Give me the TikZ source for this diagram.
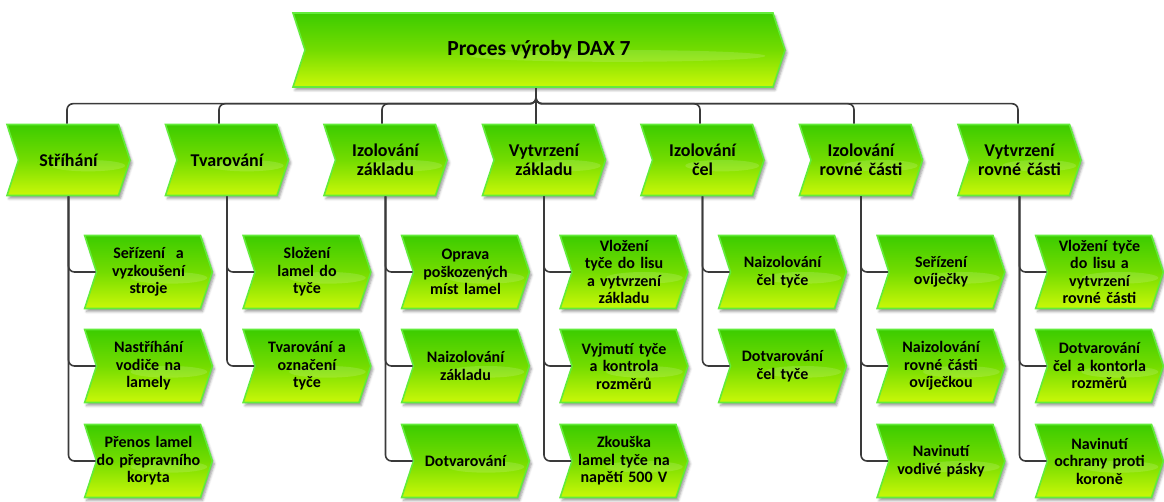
\documentclass[tikz,border=0pt]{standalone}
\usepackage{fontspec}
\setmainfont{Carlito}
\usetikzlibrary{shapes.symbols,shadows.blur,calc}
\definecolor{gtop}{RGB}{60,204,0}
\definecolor{gmid}{RGB}{116,220,0}
\definecolor{gbot}{RGB}{202,248,8}
\definecolor{gedge}{RGB}{98,236,58}
\definecolor{conncol}{RGB}{58,58,58}
\tikzset{
 chev/.style={signal, signal from=west, signal to=east, signal pointer angle=144,
   draw=gedge, line width=1.6pt, top color=gtop, bottom color=gbot, middle color=gmid,
   inner sep=0pt, align=center,
   blur shadow={shadow xshift=2pt, shadow yshift=-3pt, shadow blur radius=2.5pt, shadow opacity=40},
   path picture={\fill[white,opacity=0.14] let \p1=(path picture bounding box.north east), \p2=(path picture bounding box.south west) in
      ({\x2+0.66*(\x1-\x2)},{\y2+0.42*(\y1-\y2)}) ellipse [x radius={0.3*(\x1-\x2)}, y radius={0.08*(\y1-\y2)}];}},
 titlechev/.style={chev, minimum width=492, minimum height=74, font=\fontsize{21.5}{24}\selectfont\bfseries},
 colchev/.style={chev, minimum width=119, minimum height=71, text width=100, font=\fontsize{18}{19}\selectfont\bfseries},
 subchev/.style={chev, minimum width=118, minimum height=73, text width=104, font=\fontsize{16}{17.5}\selectfont\bfseries},
 link/.style={draw=conncol, line width=1.6pt, rounded corners=6pt},
}
\begin{document}
\begin{tikzpicture}[x=1pt,y=-1pt]
\useasboundingbox (0,0) rectangle (1164,502);
\node[titlechev] (top) at (539,50) {Proces výroby DAX 7};
\node[colchev] (c1) at (68.5,160) {Stříhání};
\node[colchev] (c2) at (227,160) {Tvarování};
\node[colchev] (c3) at (385.5,160) {Izolování\\základu};
\node[colchev] (c4) at (544,160) {Vytvrzení\\základu};
\node[colchev] (c5) at (702.5,160) {Izolování\\čel};
\node[colchev] (c6) at (861,160) {Izolování\\rovné části};
\node[colchev] (c7) at (1019.5,160) {Vytvrzení\\rovné části};
% column 1
\node[subchev] (s11) at (148.5,272) {Seřízení\ \ a\\vyzkoušení\\stroje};
\node[subchev] (s12) at (148.5,366) {Nastříhání\\vodiče na\\lamely};
\node[subchev] (s13) at (148.5,461) {Přenos lamel\\do přepravního\\koryta};
% column 2
\node[subchev] (s21) at (307,272) {Složení\\lamel do\\tyče};
\node[subchev] (s22) at (307,366) {Tvarování a\\označení\\tyče};
% column 3
\node[subchev] (s31) at (465.5,272) {Oprava\\poškozených\\míst lamel};
\node[subchev] (s32) at (465.5,366) {Naizolování\\základu};
\node[subchev] (s33) at (465.5,461) {Dotvarování};
% column 4
\node[subchev] (s41) at (624,272) {Vložení\\tyče do lisu\\a vytvrzení\\základu};
\node[subchev] (s42) at (624,366) {Vyjmutí tyče\\a kontrola\\rozměrů};
\node[subchev] (s43) at (624,461) {Zkouška\\lamel tyče na\\napětí 500 V};
% column 5
\node[subchev] (s51) at (782.5,272) {Naizolování\\čel tyče};
\node[subchev] (s52) at (782.5,366) {Dotvarování\\čel tyče};
% column 6
\node[subchev] (s61) at (941,272) {Seřízení\\ovíječky};
\node[subchev] (s62) at (941,366) {Naizolování\\rovné části\\ovíječkou};
\node[subchev] (s63) at (941,461) {Navinutí\\vodivé pásky};
% column 7
\node[subchev] (s71) at (1099.5,272) {Vložení tyče\\do lisu a\\vytvrzení\\rovné části};
\node[subchev] (s72) at (1099.5,366) {Dotvarování\\čel a kontorla\\rozměrů};
\node[subchev] (s73) at (1099.5,461) {Navinutí\\ochrany proti\\koroně};
% top bracket
\coordinate (hub) at ($(top.south)+(-3,0)$);
\coordinate (hubb) at ($(hub)+(0,7)$);
\draw[link] (hub) -- (hub |- c4.north);
\draw[link] (hubb) |- ($(c1.north)+(-1.5,-20)$) -- ($(c1.north)+(-1.5,0)$);
\draw[link] (hubb) |- ($(c2.north)+(-8,-20)$) -- ($(c2.north)+(-8,0)$);
\draw[link] (hubb) |- ($(c3.north)+(-3.5,-20)$) -- ($(c3.north)+(-3.5,0)$);
\draw[link] (hubb) |- ($(c5.north)+(-2.5,-20)$) -- ($(c5.north)+(-2.5,0)$);
\draw[link] (hubb) |- ($(c6.north)+(-7,-20)$) -- ($(c6.north)+(-7,0)$);
\draw[link] (hubb) |- ($(c7.north)+(-1.5,-20)$) -- ($(c7.north)+(-1.5,0)$);
% column links
\foreach \c/\s in {c1/s11,c1/s12,c1/s13,c2/s21,c2/s22,c3/s31,c3/s32,c3/s33,c4/s41,c4/s42,c4/s43,c5/s51,c5/s52,c6/s61,c6/s62,c6/s63,c7/s71,c7/s72,c7/s73}
  \draw[link] (\c.south) |- (\s.west);
\end{tikzpicture}
\end{document}
